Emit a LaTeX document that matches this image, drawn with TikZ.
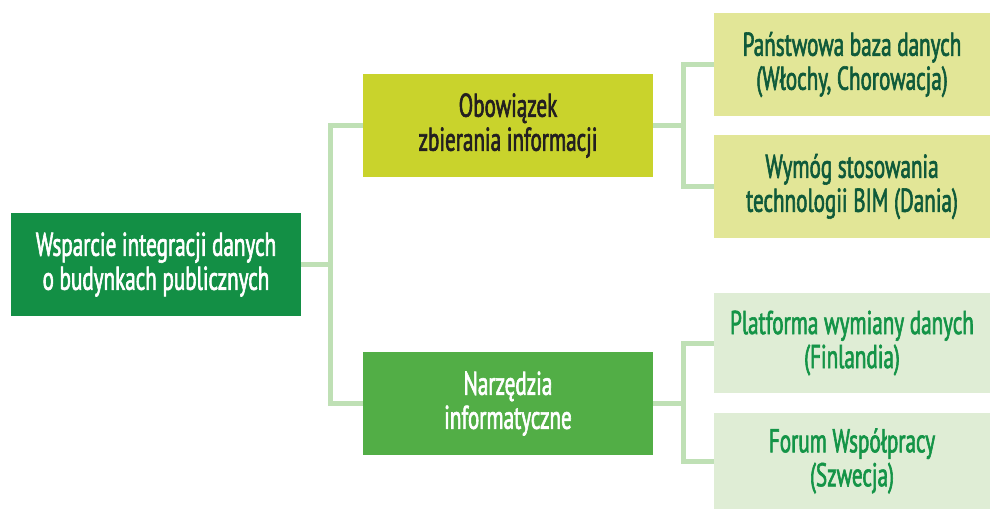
\documentclass[tikz,border=0pt]{standalone}
\usepackage{fontspec}
\setmainfont[FakeStretch=0.64,FakeBold=1.8]{PT Sans}
\definecolor{rootc}{HTML}{138F45}
\definecolor{obc}{HTML}{C9D32C}
\definecolor{nzc}{HTML}{52AE46}
\definecolor{ylc}{HTML}{E2E697}
\definecolor{lgc}{HTML}{DFEDD5}
\definecolor{linec}{HTML}{BFE0B5}
\definecolor{dkgreen}{HTML}{0F5A3A}
\definecolor{mdgreen}{HTML}{149447}
\definecolor{dktext}{HTML}{231F20}
\tikzset{
  box/.style={rectangle, inner sep=0pt, align=center, font=\fontsize{33}{34}\selectfont},
  conn/.style={draw=linec, line width=5pt, line join=miter},
}
\begin{document}
\begin{tikzpicture}[x=1pt,y=-1pt]
\useasboundingbox (0,0) rectangle (990,509);
\node[box, fill=rootc, text=white, minimum width=290pt, minimum height=103pt] (root) at (156,264.5) {Wsparcie integracji danych\\o budynkach publicznych};
\node[box, fill=obc, text=dktext, minimum width=290pt, minimum height=103pt] (ob) at (508,125.5) {Obowiązek\\zbierania informacji};
\node[box, fill=nzc, text=white, minimum width=290pt, minimum height=103pt] (nz) at (508,403.5) {Narzędzia\\informatyczne};
\node[box, fill=ylc, text=dkgreen, minimum width=276pt, minimum height=103pt] (p1) at (852,64.5) {Państwowa baza danych\\(Włochy, Chorowacja)};
\node[box, fill=ylc, text=dkgreen, minimum width=276pt, minimum height=103pt] (p2) at (852,186.5) {Wymóg stosowania\\technologii BIM (Dania)};
\node[box, fill=lgc, text=mdgreen, minimum width=276pt, minimum height=100pt] (p3) at (852,343) {Platforma wymiany danych\\(Finlandia)};
\node[box, fill=lgc, text=mdgreen, minimum width=276pt, minimum height=96pt] (p4) at (852,461) {Forum Współpracy\\(Szwecja)};
\coordinate (j1) at (330,264.5);
\coordinate (j2) at (683,125.5);
\coordinate (j3) at (683,403.5);
\draw[conn] (root.east) -- (j1);
\draw[conn] (ob.west) -| (j1) |- (nz.west);
\draw[conn] (ob.east) -- (j2);
\draw[conn] (p1.west) -| (j2) |- (p2.west);
\draw[conn] (nz.east) -- (j3);
\draw[conn] (p3.west) -| (j3) |- (p4.west);
\end{tikzpicture}
\end{document}
